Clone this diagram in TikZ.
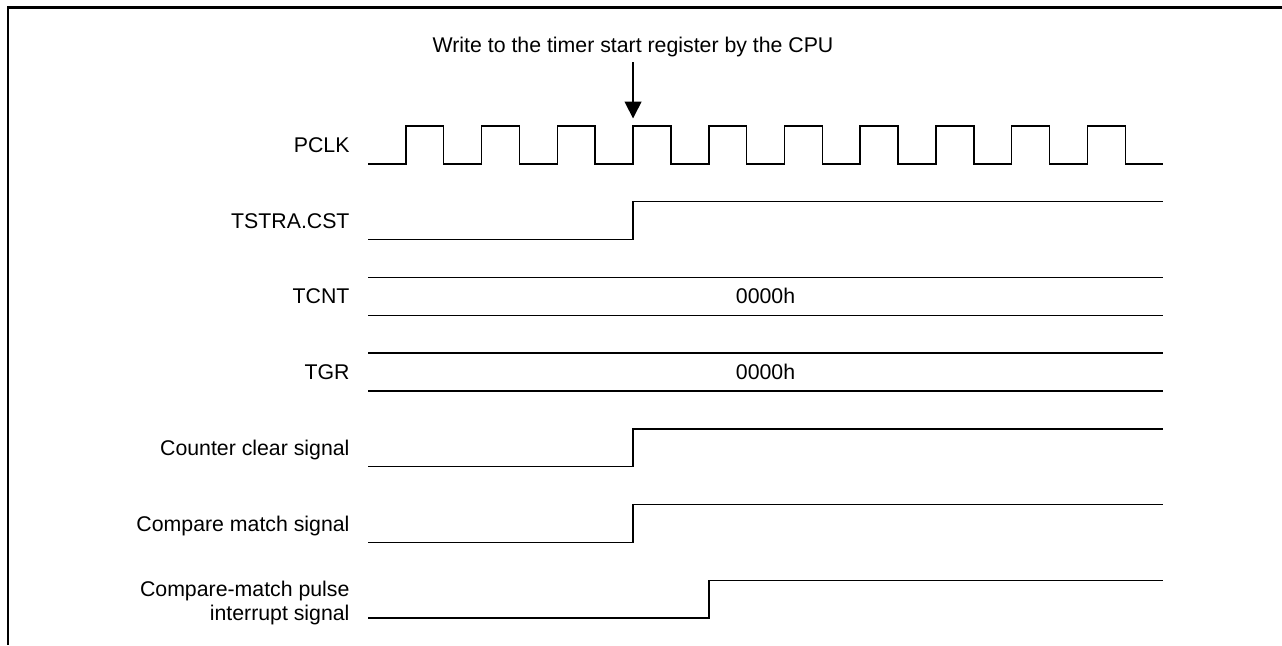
\documentclass[tikz,border=0pt]{standalone}
\usepackage{fontspec}
\setmainfont{Liberation Sans}
\usetikzlibrary{arrows.meta}

\begin{document}
\begin{tikzpicture}[x=0.5cm, y=-0.5cm,
  sigline/.style={line width=0.55pt, line join=miter},
  frameline/.style={line width=1pt},
  siglabel/.style={anchor=base east, inner sep=0pt, font=\fontsize{8}{9.1}\selectfont},
  siglabeltwo/.style={siglabel, anchor=east, align=right},
  busvalue/.style={inner sep=0pt, font=\fontsize{8}{9.1}\selectfont},
  caption/.style={anchor=base, inner xsep=0pt, inner ysep=1.8pt, font=\fontsize{8}{9.1}\selectfont},
  writearrow/.style={-{Triangle[length=6.3pt, width=6.3pt]}, line width=0.6pt}
]
\useasboundingbox (-9.72,-3.328) rectangle (24.14,13.71);
\draw[frameline] (24.14,-3.135) -- (-9.51,-3.135) -- (-9.51,13.71);

\node[caption] (wtext) at (7,-1.947) {Write to the timer start register by the CPU};
\coordinate (wtip) at (7,-0.2);
\draw[writearrow] (wtext.south) -- (wtip);

\node[siglabel] (lpclk) at (-0.475,0.7) {PCLK};
\node[siglabel] (ltstra) at (-0.475,2.7) {TSTRA.CST};
\node[siglabel] (ltcnt) at (-0.475,4.7) {TCNT};
\node[siglabel] (ltgr) at (-0.475,6.7) {TGR};
\node[siglabel] (lclear) at (-0.475,8.7) {Counter clear signal};
\node[siglabel] (lmatch) at (-0.475,10.7) {Compare match signal};
\node[siglabeltwo] (lpulse) at (-0.475,12.6) {Compare-match pulse\\interrupt signal};

\draw[sigline] (0,1) foreach \i in {1,3,...,19} { -- (\i,1) -- (\i,0) -- (\i+1,0) -- (\i+1,1) } -- (21,1);
\draw[sigline] (0,3) -- (7,3) -- (7,2) -- (21,2);
\draw[sigline] (0,4) -- (21,4) (0,5) -- (21,5);
\node[busvalue] (vtcnt) at (10.5,4.5) {0000h};
\draw[sigline] (0,6) -- (21,6) (0,7) -- (21,7);
\node[busvalue] (vtgr) at (10.5,6.5) {0000h};
\draw[sigline] (0,9) -- (7,9) -- (7,8) -- (21,8);
\draw[sigline] (0,11) -- (7,11) -- (7,10) -- (21,10);
\draw[sigline] (0,13) -- (9,13) -- (9,12) -- (21,12);
\end{tikzpicture}
\end{document}
